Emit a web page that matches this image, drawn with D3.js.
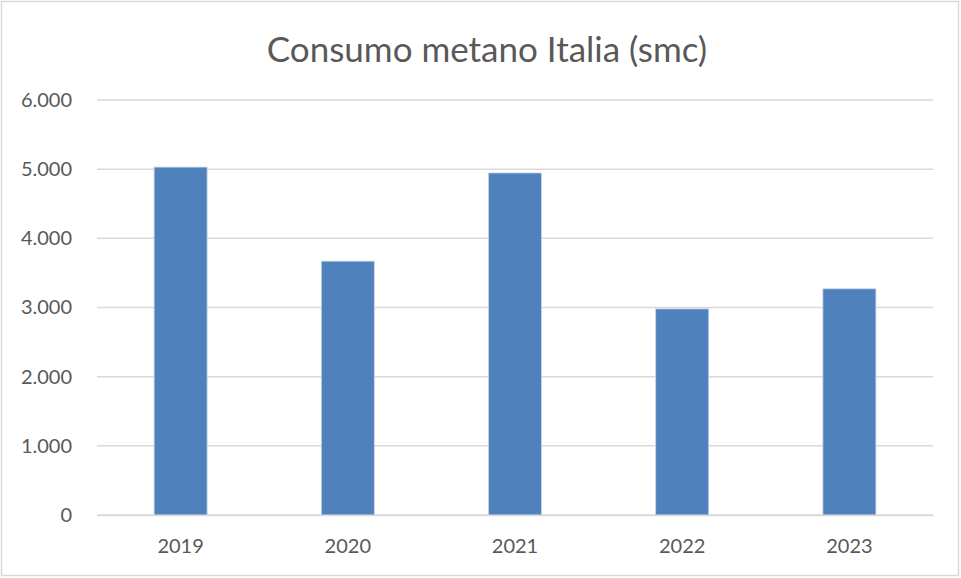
<!DOCTYPE html>
<html>
<head>
<meta charset="utf-8">
<script src="https://cdn.jsdelivr.net/npm/d3@7"></script>
<style>
  body { margin: 0; background: #fff; }
  svg { display: block; font-family: Lato, "Open Sans", sans-serif; }
</style>
</head>
<body>
<div id="chart"></div>
<script>
var years = ['2019', '2020', '2021', '2022', '2023'];
var consumo = [5030, 3670, 4945, 2980, 3270];
var yTicks = [0, 1000, 2000, 3000, 4000, 5000, 6000];

var svgWidth = 961;
var svgHeight = 578;
var margin = {top: 100, right: 28, bottom: 63, left: 97};
var width = svgWidth - margin.left - margin.right;
var height = svgHeight - margin.top - margin.bottom;

var fmt = d3.formatLocale({decimal: ',', thousands: '.', grouping: [3], currency: ['', '']}).format(',');

var svg = d3.select('#chart')
  .append('svg')
  .attr('width', svgWidth)
  .attr('height', svgHeight);

// chart frame
svg.append('rect')
  .attr('x', 1.5).attr('y', 1.5)
  .attr('width', svgWidth - 4).attr('height', svgHeight - 4)
  .attr('fill', '#fff')
  .attr('stroke', '#d9d9d9')
  .attr('stroke-width', 1.5);

svg.append('text')
  .attr('x', 487)
  .attr('y', 62)
  .attr('text-anchor', 'middle')
  .attr('font-size', 35)
  .attr('fill', '#595959')
  .text('Consumo metano Italia (smc)');

var main = svg.append('g')
  .attr('transform', 'translate(' + margin.left + ',' + margin.top + ')');

var xScale = d3.scaleBand()
  .domain(years)
  .range([0, width])
  .paddingInner(0.683)
  .paddingOuter(0.3415);

var yScale = d3.scaleLinear()
  .domain([0, 6000])
  .range([height, 0]);

// gridlines
main.append('g')
  .selectAll('line')
  .data(yTicks)
  .enter()
  .append('line')
  .attr('x1', 0)
  .attr('x2', width)
  .attr('y1', function(d) { return yScale(d); })
  .attr('y2', function(d) { return yScale(d); })
  .attr('stroke', '#d9d9d9')
  .attr('stroke-width', 1.5);

// y axis labels
var yAxis = d3.axisLeft(yScale)
  .tickValues(yTicks)
  .tickSize(0)
  .tickPadding(25)
  .tickFormat(function(d) { return fmt(d); });

var gy = main.append('g').call(yAxis);
gy.select('.domain').remove();
gy.selectAll('text')
  .attr('font-size', 20)
  .attr('fill', '#595959')
  .attr('font-family', 'Lato, sans-serif');

// bars
main.append('g')
  .selectAll('rect')
  .data(consumo)
  .enter()
  .append('rect')
  .attr('x', function(d, i) { return xScale(years[i]); })
  .attr('y', function(d) { return yScale(d); })
  .attr('width', xScale.bandwidth())
  .attr('height', function(d) { return height - yScale(d); })
  .attr('fill', '#4f81bd')
  .attr('stroke', '#c6d4ea')
  .attr('stroke-width', 0.8);

// x axis
var xAxis = d3.axisBottom(xScale)
  .tickSize(0)
  .tickPadding(24);

var gx = main.append('g')
  .attr('transform', 'translate(0,' + height + ')')
  .call(xAxis);
gx.select('.domain')
  .attr('stroke', '#d9d9d9')
  .attr('stroke-width', 1.5);
gx.selectAll('text')
  .attr('font-size', 20)
  .attr('fill', '#595959')
  .attr('font-family', 'Lato, sans-serif');
</script>
</body>
</html>
